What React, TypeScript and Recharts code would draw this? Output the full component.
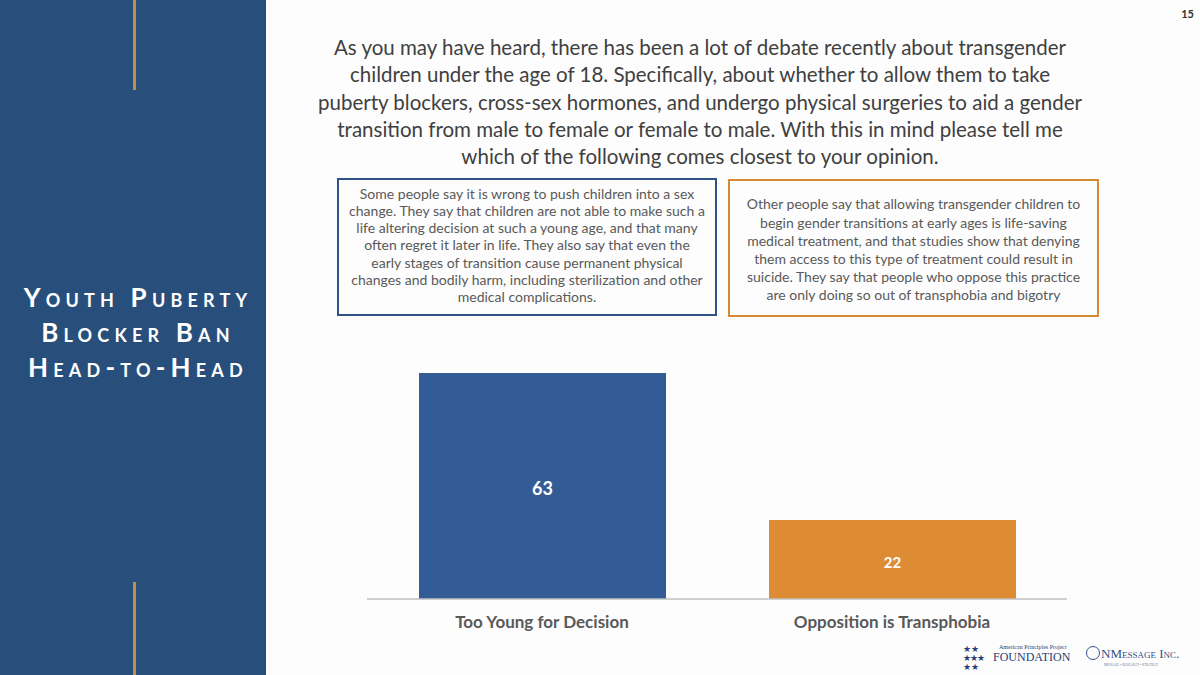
import React from 'react';
import { BarChart, Bar, XAxis, YAxis, Cell, LabelList } from 'recharts';

const categories = ['Too Young for Decision', 'Opposition is Transphobia'];
const values = [63, 22];
const barColors = ['#335C96', '#DE8C34'];
const labelSizes = [18, 15];

const titleLines = [
  'As you may have heard, there has been a lot of debate recently about transgender',
  'children under the age of 18. Specifically, about whether to allow them to take',
  'puberty blockers, cross-sex hormones, and undergo physical surgeries to aid a gender',
  'transition from male to female or female to male. With this in mind please tell me',
  'which of the following comes closest to your opinion.',
];

const leftBoxLines = [
  'Some people say it is wrong to push children into a sex',
  'change. They say that children are not able to make such a',
  'life altering decision at such a young age, and that many',
  'often regret it later in life. They also say that even the',
  'early stages of transition cause permanent physical',
  'changes and bodily harm, including sterilization and other',
  'medical complications.',
];

const rightBoxLines = [
  'Other people say that allowing transgender children to',
  'begin gender transitions at early ages is life-saving',
  'medical treatment, and that studies show that denying',
  'them access to this type of treatment could result in',
  'suicide. They say that people who oppose this practice',
  'are only doing so out of transphobia and bigotry',
];

const sideTitle = ['Youth Puberty', 'Blocker Ban', 'Head-to-Head'];

const data = categories.map((c, i) => ({ cat: c, value: values[i] }));

const FONT = 'Lato, Carlito, "Open Sans", sans-serif';

const CatTick = (props: any) => {
  const { x, y, payload } = props;
  return (
    <text x={x} y={y + 29} textAnchor="middle" fill="#595959" fontFamily={FONT} fontWeight={700} fontSize={17}>
      {payload.value}
    </text>
  );
};

const renderLabel = (props: any) => {
  const { x, y, width, height, value, index } = props;
  return (
    <text
      x={x + width / 2}
      y={y + height / 2 + 2}
      textAnchor="middle"
      dominantBaseline="central"
      fill="#FFFFFF"
      fontFamily={FONT}
      fontWeight={700}
      fontSize={labelSizes[index] || 16}
    >
      {value}
    </text>
  );
};

export default function App() {
  return (
    <div
      style={{
        position: 'absolute',
        left: 0,
        top: 0,
        width: 1200,
        height: 675,
        overflow: 'hidden',
        background: '#FDFDFD',
        fontFamily: FONT,
      }}
    >
      {/* left panel */}
      <div style={{ position: 'absolute', left: 0, top: 0, width: 266, height: 675, background: '#284F7C' }} />
      <div style={{ position: 'absolute', left: 132.5, top: 0, width: 3, height: 90, background: '#C68B45' }} />
      <div style={{ position: 'absolute', left: 132.5, top: 582, width: 3, height: 93, background: '#C68B45' }} />
      <div
        style={{
          position: 'absolute',
          left: 3,
          top: 280,
          width: 270,
          textAlign: 'center',
          color: '#FFFFFF',
          fontWeight: 700,
          fontSize: 26,
          lineHeight: '35px',
          letterSpacing: 5.2,
          fontVariant: 'small-caps',
          whiteSpace: 'nowrap',
        }}
      >
        {sideTitle.map((t, i) => (
          <div key={i}>{t}</div>
        ))}
      </div>

      {/* page number */}
      <div style={{ position: 'absolute', left: 1166, top: 7, width: 28, textAlign: 'right', fontSize: 11, fontWeight: 700, color: '#333' }}>
        15
      </div>

      {/* question */}
      <div
        style={{
          position: 'absolute',
          left: 250,
          top: 34,
          width: 900,
          textAlign: 'center',
          color: '#404040',
          fontSize: 20.5,
          lineHeight: '27.3px',
          whiteSpace: 'nowrap',
        }}
      >
        {titleLines.map((t, i) => (
          <div key={i}>{t}</div>
        ))}
      </div>

      {/* statement boxes */}
      <div
        style={{
          position: 'absolute',
          left: 337,
          top: 178,
          width: 380,
          height: 138,
          boxSizing: 'border-box',
          border: '2.5px solid #2F5287',
          display: 'flex',
          flexDirection: 'column',
          justifyContent: 'center',
          alignItems: 'center',
          color: '#595959',
          fontSize: 14,
          lineHeight: '17.2px',
          whiteSpace: 'nowrap',
          paddingBottom: 4,
        }}
      >
        {leftBoxLines.map((t, i) => (
          <div key={i}>{t}</div>
        ))}
      </div>
      <div
        style={{
          position: 'absolute',
          left: 728,
          top: 179,
          width: 371,
          height: 138,
          boxSizing: 'border-box',
          border: '2.5px solid #D68A33',
          display: 'flex',
          flexDirection: 'column',
          justifyContent: 'center',
          alignItems: 'center',
          color: '#595959',
          fontSize: 14,
          lineHeight: '18.2px',
          whiteSpace: 'nowrap',
          paddingTop: 4,
        }}
      >
        {rightBoxLines.map((t, i) => (
          <div key={i}>{t}</div>
        ))}
      </div>

      {/* chart */}
      <div style={{ position: 'absolute', left: 367, top: 340 }}>
        <BarChart width={700} height={300} data={data} margin={{ top: 8, right: 0, bottom: 0, left: 0 }}>
          <XAxis
            dataKey="cat"
            height={41}
            tickLine={false}
            tickSize={0}
            tickMargin={0}
            axisLine={{ stroke: '#BFBFBF', strokeWidth: 1.5 }}
            tick={<CatTick />}
            interval={0}
          />
          <YAxis hide domain={[0, 70]} />
          <Bar dataKey="value" barSize={247} isAnimationActive={false}>
            {data.map((d, i) => (
              <Cell key={i} fill={barColors[i]} />
            ))}
            <LabelList dataKey="value" content={renderLabel} />
          </Bar>
        </BarChart>
      </div>

      {/* logos */}
      <div style={{ position: 'absolute', left: 963, top: 644, color: '#2B3F73', fontSize: 9, lineHeight: '9px', letterSpacing: -1, width: 30 }}>
        <div>★ ★</div>
        <div>★★★</div>
        <div>★ ★</div>
      </div>
      <div style={{ position: 'absolute', left: 993, top: 643, color: '#2B3F73', fontFamily: '"Liberation Serif", serif', textAlign: 'left' }}>
        <div style={{ fontSize: 6, lineHeight: '8px', marginLeft: 6 }}>American Principles Project</div>
        <div style={{ fontSize: 12, lineHeight: '13px' }}>FOUNDATION</div>
      </div>
      <div style={{ position: 'absolute', left: 1086, top: 646, color: '#34508A', fontFamily: '"Liberation Serif", serif', fontSize: 13, fontVariant: 'small-caps', whiteSpace: 'nowrap' }}>
        <span style={{ display: 'inline-block', width: 14, height: 14, borderRadius: 7, border: '1.5px solid #34508A', boxSizing: 'border-box', verticalAlign: -2, marginRight: 1 }} />
        NMessage Inc.
        <div style={{ fontSize: 4, lineHeight: '5px', marginLeft: 18, color: '#6A7BA0' }}>Message • Research • Strategy</div>
      </div>
    </div>
  );
}
